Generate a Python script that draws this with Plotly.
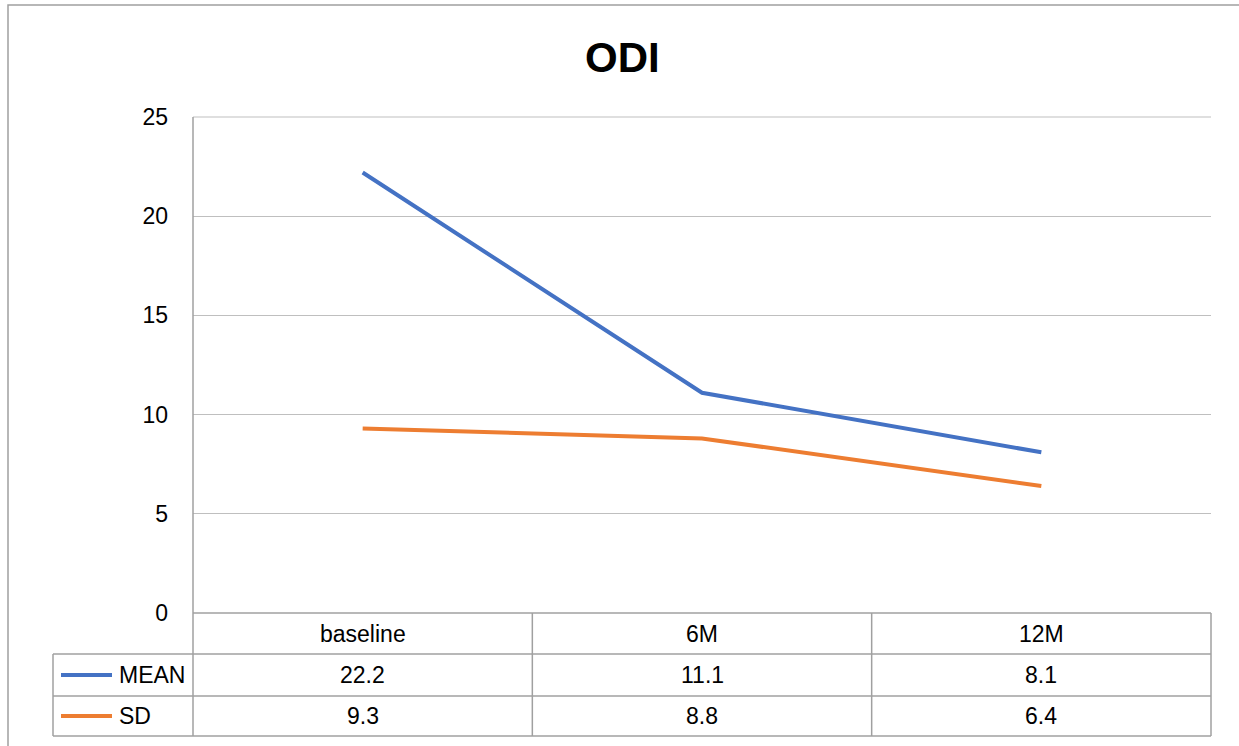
import plotly.graph_objects as go

categories = ["baseline", "6M", "12M"]
mean_vals = [22.2, 11.1, 8.1]
sd_vals = [9.3, 8.8, 6.4]
series_names = ["MEAN", "SD"]
y_ticks = [0, 5, 10, 15, 20, 25]
title_text = "ODI"

colors = ["#4472C4", "#ED7D31"]
W, H = 1239, 746
L, R, T, B = 193, 1211, 117, 613
FONT = "Liberation Sans"
GRID = "#BFBFBF"
BORDER = "#A0A0A0"

def px(xp):
    return (xp - L) / (R - L)

def py(yp):
    return (B - yp) / (B - T)

fig = go.Figure()
for name, vals, c in zip(series_names, [mean_vals, sd_vals], colors):
    fig.add_trace(go.Scatter(x=list(range(len(categories))), y=vals, mode="lines",
                             name=name, line=dict(color=c, width=4), showlegend=False))

n = len(categories)
shapes = []
# outer chart border
shapes.append(dict(type="rect", xref="paper", yref="paper", x0=px(8), x1=px(1260), y0=py(5), y1=py(780),
                   line=dict(color=BORDER, width=1.5), fillcolor="rgba(0,0,0,0)", layer="below"))
# top gridline of plot area
shapes.append(dict(type="line", xref="paper", yref="paper", x0=0, x1=1, y0=1, y1=1,
                   line=dict(color=GRID, width=1.2), layer="below"))
# table lines
row_y = [613, 654, 696, 736]
for i, yy in enumerate(row_y):
    x0 = px(L) if i == 0 else px(53)
    shapes.append(dict(type="line", xref="paper", yref="paper", x0=x0, x1=1, y0=py(yy), y1=py(yy),
                       line=dict(color=BORDER, width=1.5)))
# left vertical line (plot + table)
shapes.append(dict(type="line", xref="paper", yref="paper", x0=0, x1=0, y0=1, y1=py(736),
                   line=dict(color=BORDER, width=1.5)))
# legend column left border
shapes.append(dict(type="line", xref="paper", yref="paper", x0=px(53), x1=px(53), y0=py(654), y1=py(736),
                   line=dict(color=BORDER, width=1.5)))
# column dividers
for k in range(1, n + 1):
    shapes.append(dict(type="line", xref="paper", yref="paper", x0=k / n, x1=k / n, y0=0, y1=py(736),
                       line=dict(color=BORDER, width=1.5)))
# legend line samples
for j, c in enumerate(colors):
    yc = (row_y[j + 1] + row_y[j + 2]) / 2
    shapes.append(dict(type="line", xref="paper", yref="paper", x0=px(61), x1=px(112), y0=py(yc), y1=py(yc),
                       line=dict(color=c, width=4)))

annotations = []
tf = dict(family=FONT, size=23, color="#000000")
for i, cat in enumerate(categories):
    annotations.append(dict(text=cat, xref="paper", yref="paper", x=(i + 0.5) / n, y=py((row_y[0] + row_y[1]) / 2),
                            showarrow=False, xanchor="center", yanchor="middle", font=tf))
for j, (name, vals) in enumerate(zip(series_names, [mean_vals, sd_vals])):
    yc = (row_y[j + 1] + row_y[j + 2]) / 2
    annotations.append(dict(text=name, xref="paper", yref="paper", x=px(117), y=py(yc),
                            showarrow=False, xanchor="left", yanchor="middle", font=tf))
    for i, v in enumerate(vals):
        annotations.append(dict(text=f"{v:.1f}", xref="paper", yref="paper", x=(i + 0.5) / n, y=py(yc),
                                showarrow=False, xanchor="center", yanchor="middle", font=tf))
annotations.append(dict(text=f"<b>{title_text}</b>", xref="paper", yref="paper", x=px(622), y=py(57),
                        showarrow=False, xanchor="center", yanchor="middle",
                        font=dict(family=FONT, size=42, color="#000000")))

fig.update_layout(
    width=W, height=H,
    margin=dict(l=L, r=W - R, t=T, b=H - B, pad=0),
    paper_bgcolor="white", plot_bgcolor="white",
    xaxis=dict(range=[-0.5, n - 0.5], showgrid=False, showticklabels=False, zeroline=False,
               showline=False, ticks="", fixedrange=True),
    yaxis=dict(range=[0, 25], tickvals=y_ticks, showgrid=True, gridcolor=GRID, gridwidth=1.2,
               zeroline=False, showline=False, ticks="", ticklabelstandoff=24,
               tickfont=dict(family=FONT, size=23, color="#000000")),
    shapes=shapes, annotations=annotations, showlegend=False,
)
fig.write_html("out.html", config={"displayModeBar": False},
               post_script="document.body.style.margin='0';document.body.style.overflow='hidden';")
